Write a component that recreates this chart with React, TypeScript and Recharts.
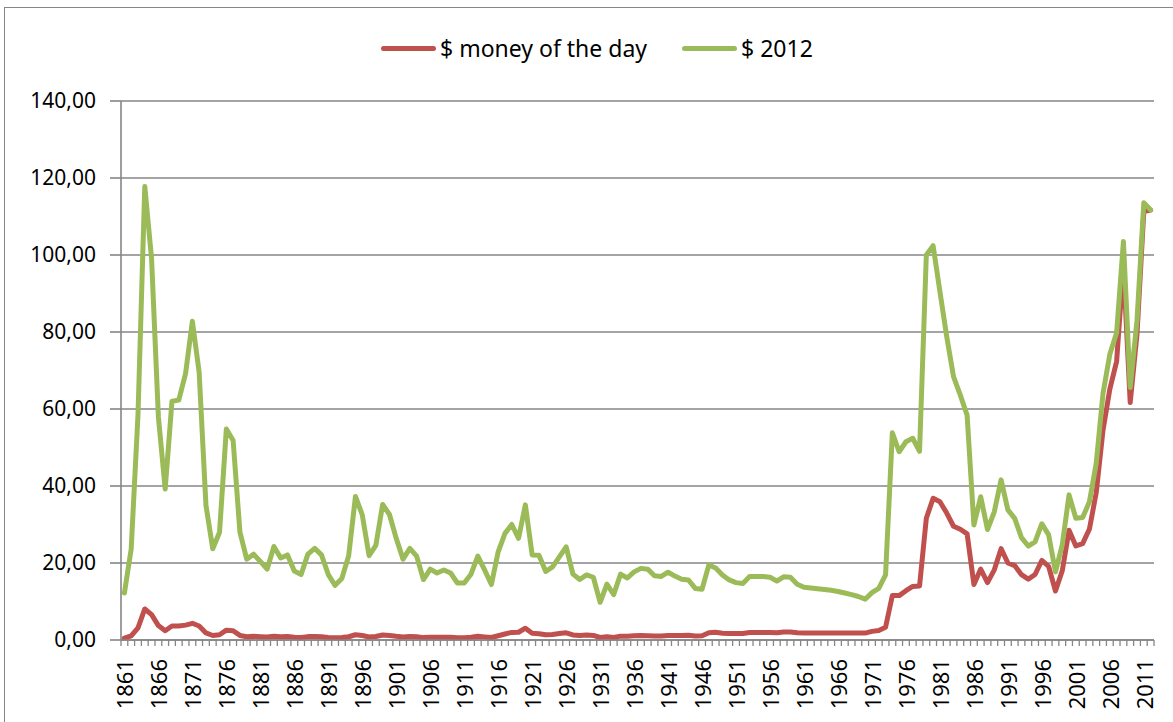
import React from 'react';
import { LineChart, Line, XAxis, YAxis, CartesianGrid, Legend } from 'recharts';

const startYear = 1861;
const endYear = 2012;
const years: number[] = [];
for (let y = startYear; y <= endYear; y++) years.push(y);

// $ money of the day
const moneyOfTheDay: number[] = [
  // 1861-1870
  0.49, 1.05, 3.15, 8.06, 6.59, 3.74, 2.41, 3.63, 3.64, 3.86,
  // 1871-1880
  4.34, 3.64, 1.83, 1.17, 1.35, 2.56, 2.42, 1.19, 0.86, 0.95,
  // 1881-1890
  0.86, 0.78, 1.0, 0.84, 0.88, 0.71, 0.67, 0.88, 0.94, 0.87,
  // 1891-1900
  0.67, 0.56, 0.64, 0.84, 1.36, 1.18, 0.79, 0.91, 1.29, 1.19,
  // 1901-1910
  0.96, 0.8, 0.94, 0.86, 0.62, 0.73, 0.72, 0.72, 0.7, 0.61,
  // 1911-1920
  0.61, 0.74, 0.95, 0.81, 0.64, 1.1, 1.56, 1.98, 2.01, 3.07,
  // 1921-1930
  1.73, 1.61, 1.34, 1.43, 1.68, 1.88, 1.3, 1.17, 1.27, 1.19,
  // 1931-1940
  0.65, 0.87, 0.67, 1.0, 0.97, 1.09, 1.18, 1.13, 1.02, 1.02,
  // 1941-1950
  1.14, 1.19, 1.2, 1.21, 1.05, 1.12, 1.9, 1.99, 1.78, 1.71,
  // 1951-1960
  1.71, 1.71, 1.93, 1.93, 1.93, 1.93, 1.9, 2.08, 2.08, 1.9,
  // 1961-1970
  1.8, 1.8, 1.8, 1.8, 1.8, 1.8, 1.8, 1.8, 1.8, 1.8,
  // 1971-1980
  2.24, 2.48, 3.29, 11.58, 11.53, 12.8, 13.92, 14.02, 31.61, 36.83,
  // 1981-1990
  35.93, 32.97, 29.55, 28.78, 27.56, 14.43, 18.44, 14.92, 18.23, 23.73,
  // 1991-2000
  20.0, 19.32, 16.97, 15.82, 17.02, 20.67, 19.09, 12.72, 17.97, 28.5,
  // 2001-2010
  24.44, 25.02, 28.83, 38.27, 54.52, 65.14, 72.39, 97.26, 61.67, 79.5,
  // 2011-2012
  111.26, 111.67,
];

// $ 2012
const dollars2012: number[] = [
  // 1861-1870
  12.2, 23.7, 58.5, 117.8, 99.0, 58.0, 39.2, 62.0, 62.3, 69.2,
  // 1871-1880
  82.8, 69.5, 35.0, 23.7, 28.0, 54.8, 51.8, 28.0, 21.0, 22.3,
  // 1881-1890
  20.4, 18.4, 24.3, 21.3, 22.1, 17.9, 17.0, 22.3, 23.8, 22.1,
  // 1891-1900
  17.0, 14.2, 16.0, 21.9, 37.3, 32.5, 21.9, 24.6, 35.2, 32.6,
  // 1901-1910
  26.4, 21.0, 23.8, 21.8, 15.7, 18.4, 17.4, 18.2, 17.4, 14.8,
  // 1911-1920
  14.8, 17.1, 21.8, 18.2, 14.4, 22.9, 27.7, 30.0, 26.4, 35.1,
  // 1921-1930
  22.1, 22.0, 17.8, 19.0, 21.6, 24.2, 17.1, 15.7, 16.9, 16.3,
  // 1931-1940
  9.8, 14.5, 11.8, 17.1, 16.1, 17.7, 18.6, 18.4, 16.7, 16.5,
  // 1941-1950
  17.6, 16.6, 15.8, 15.6, 13.4, 13.2, 19.5, 18.7, 16.9, 15.6,
  // 1951-1960
  14.9, 14.7, 16.5, 16.5, 16.5, 16.3, 15.3, 16.4, 16.3, 14.5,
  // 1961-1970
  13.7, 13.5, 13.3, 13.1, 12.9, 12.6, 12.2, 11.8, 11.3, 10.6,
  // 1971-1980
  12.3, 13.4, 16.9, 53.8, 48.9, 51.5, 52.4, 49.0, 100.0, 102.4,
  // 1981-1990
  90.5, 78.8, 68.4, 63.6, 58.4, 29.9, 37.2, 28.7, 33.3, 41.6,
  // 1991-2000
  33.8, 31.6, 26.6, 24.4, 25.5, 30.2, 27.3, 17.7, 24.7, 37.7,
  // 2001-2010
  31.6, 31.8, 35.9, 45.9, 64.1, 74.2, 79.8, 103.5, 65.6, 83.0,
  // 2011-2012
  113.6, 111.7,
];

const yTicks: number[] = [0, 20, 40, 60, 80, 100, 120, 140];
const seriesNames = ['$ money of the day', '$ 2012'];

const data = years.map((y, i) => ({
  year: String(y),
  nominal: moneyOfTheDay[i],
  real: dollars2012[i],
}));

const W = 1173;
const H = 722;
const PLOT_LEFT = 121;
const PLOT_RIGHT = 1154;
const PLOT_TOP = 101;
const PLOT_BOTTOM = 640;
const BW = (PLOT_RIGHT - PLOT_LEFT) / years.length;
const GRAY = '#868686';
const FONT = '"Noto Sans", "Open Sans", sans-serif';

const XTick = (props: any) => {
  const { x, y, index, payload } = props;
  const left = x - BW / 2;
  const showLabel = index % 5 === 0;
  return (
    <g>
      <line x1={left} y1={y} x2={left} y2={y + 6} stroke={GRAY} strokeWidth={1.3} />
      {index === years.length - 1 && (
        <line x1={x + BW / 2} y1={y} x2={x + BW / 2} y2={y + 6} stroke={GRAY} strokeWidth={1.3} />
      )}
      {showLabel && (
        <text
          x={x}
          y={y + 19}
          transform={`rotate(-90, ${x}, ${y + 19})`}
          textAnchor="end"
          dominantBaseline="central"
          fontSize={22}
          fontFamily={FONT}
          fill="#000"
        >
          {payload.value}
        </text>
      )}
    </g>
  );
};

const renderLegend = (props: any) => {
  const payload = [...(props.payload || [])].sort(
    (a: any, b: any) => seriesNames.indexOf(a.value) - seriesNames.indexOf(b.value)
  );
  return (
    <div
      style={{
        display: 'flex',
        alignItems: 'center',
        paddingLeft: 381,
        fontFamily: FONT,
        fontSize: 23,
        lineHeight: '30px',
        color: '#000',
        whiteSpace: 'nowrap',
      }}
    >
      {payload.map((item: any, i: number) => (
        <div key={i} style={{ display: 'flex', alignItems: 'center', marginRight: 35 }}>
          <span
            style={{
              display: 'inline-block',
              width: 55,
              height: 5,
              borderRadius: 3,
              background: item.color,
              marginRight: 4,
            }}
          />
          <span>{item.value}</span>
        </div>
      ))}
    </div>
  );
};

export default function App() {
  return (
    <div
      style={{
        position: 'absolute',
        left: 0,
        top: 0,
        width: W,
        height: H,
        overflow: 'hidden',
        background: '#fff',
      }}
    >
      <div
        style={{
          position: 'absolute',
          left: 4,
          top: 7,
          width: 1300,
          height: 900,
          border: `1.5px solid ${GRAY}`,
          boxSizing: 'border-box',
        }}
      />
      <LineChart
        width={W}
        height={H}
        data={data}
        margin={{ top: PLOT_TOP, right: W - PLOT_RIGHT, bottom: 0, left: 0 }}
      >
        <CartesianGrid vertical={false} stroke={GRAY} strokeWidth={1.6} />
        <XAxis
          dataKey="year"
          interval={0}
          tickSize={0}
          tickMargin={0}
          height={H - PLOT_BOTTOM}
          padding={{ left: BW / 2, right: BW / 2 }}
          axisLine={{ stroke: GRAY, strokeWidth: 1.6 }}
          tickLine={false}
          tick={(p: any) => <XTick {...p} />}
        />
        <YAxis
          domain={[0, 140]}
          ticks={yTicks}
          width={PLOT_LEFT}
          tickSize={11}
          tickMargin={14}
          axisLine={{ stroke: GRAY, strokeWidth: 1.6 }}
          tickLine={{ stroke: GRAY, strokeWidth: 1.6 }}
          tick={{ fontSize: 21, fontFamily: FONT, fill: '#000' }}
          tickFormatter={(v: number) => v.toFixed(2).replace('.', ',')}
          allowDataOverflow
        />
        <Legend
          verticalAlign="middle"
          align="center"
          content={renderLegend}
          wrapperStyle={{ top: 33, left: 0, width: W }}
        />
        <Line
          type="linear"
          dataKey="nominal"
          name={seriesNames[0]}
          stroke="#C0504D"
          strokeWidth={5}
          strokeLinejoin="round"
          strokeLinecap="round"
          dot={false}
          activeDot={false}
          isAnimationActive={false}
        />
        <Line
          type="linear"
          dataKey="real"
          name={seriesNames[1]}
          stroke="#9BBB59"
          strokeWidth={5}
          strokeLinejoin="round"
          strokeLinecap="round"
          dot={false}
          activeDot={false}
          isAnimationActive={false}
        />
      </LineChart>
    </div>
  );
}
